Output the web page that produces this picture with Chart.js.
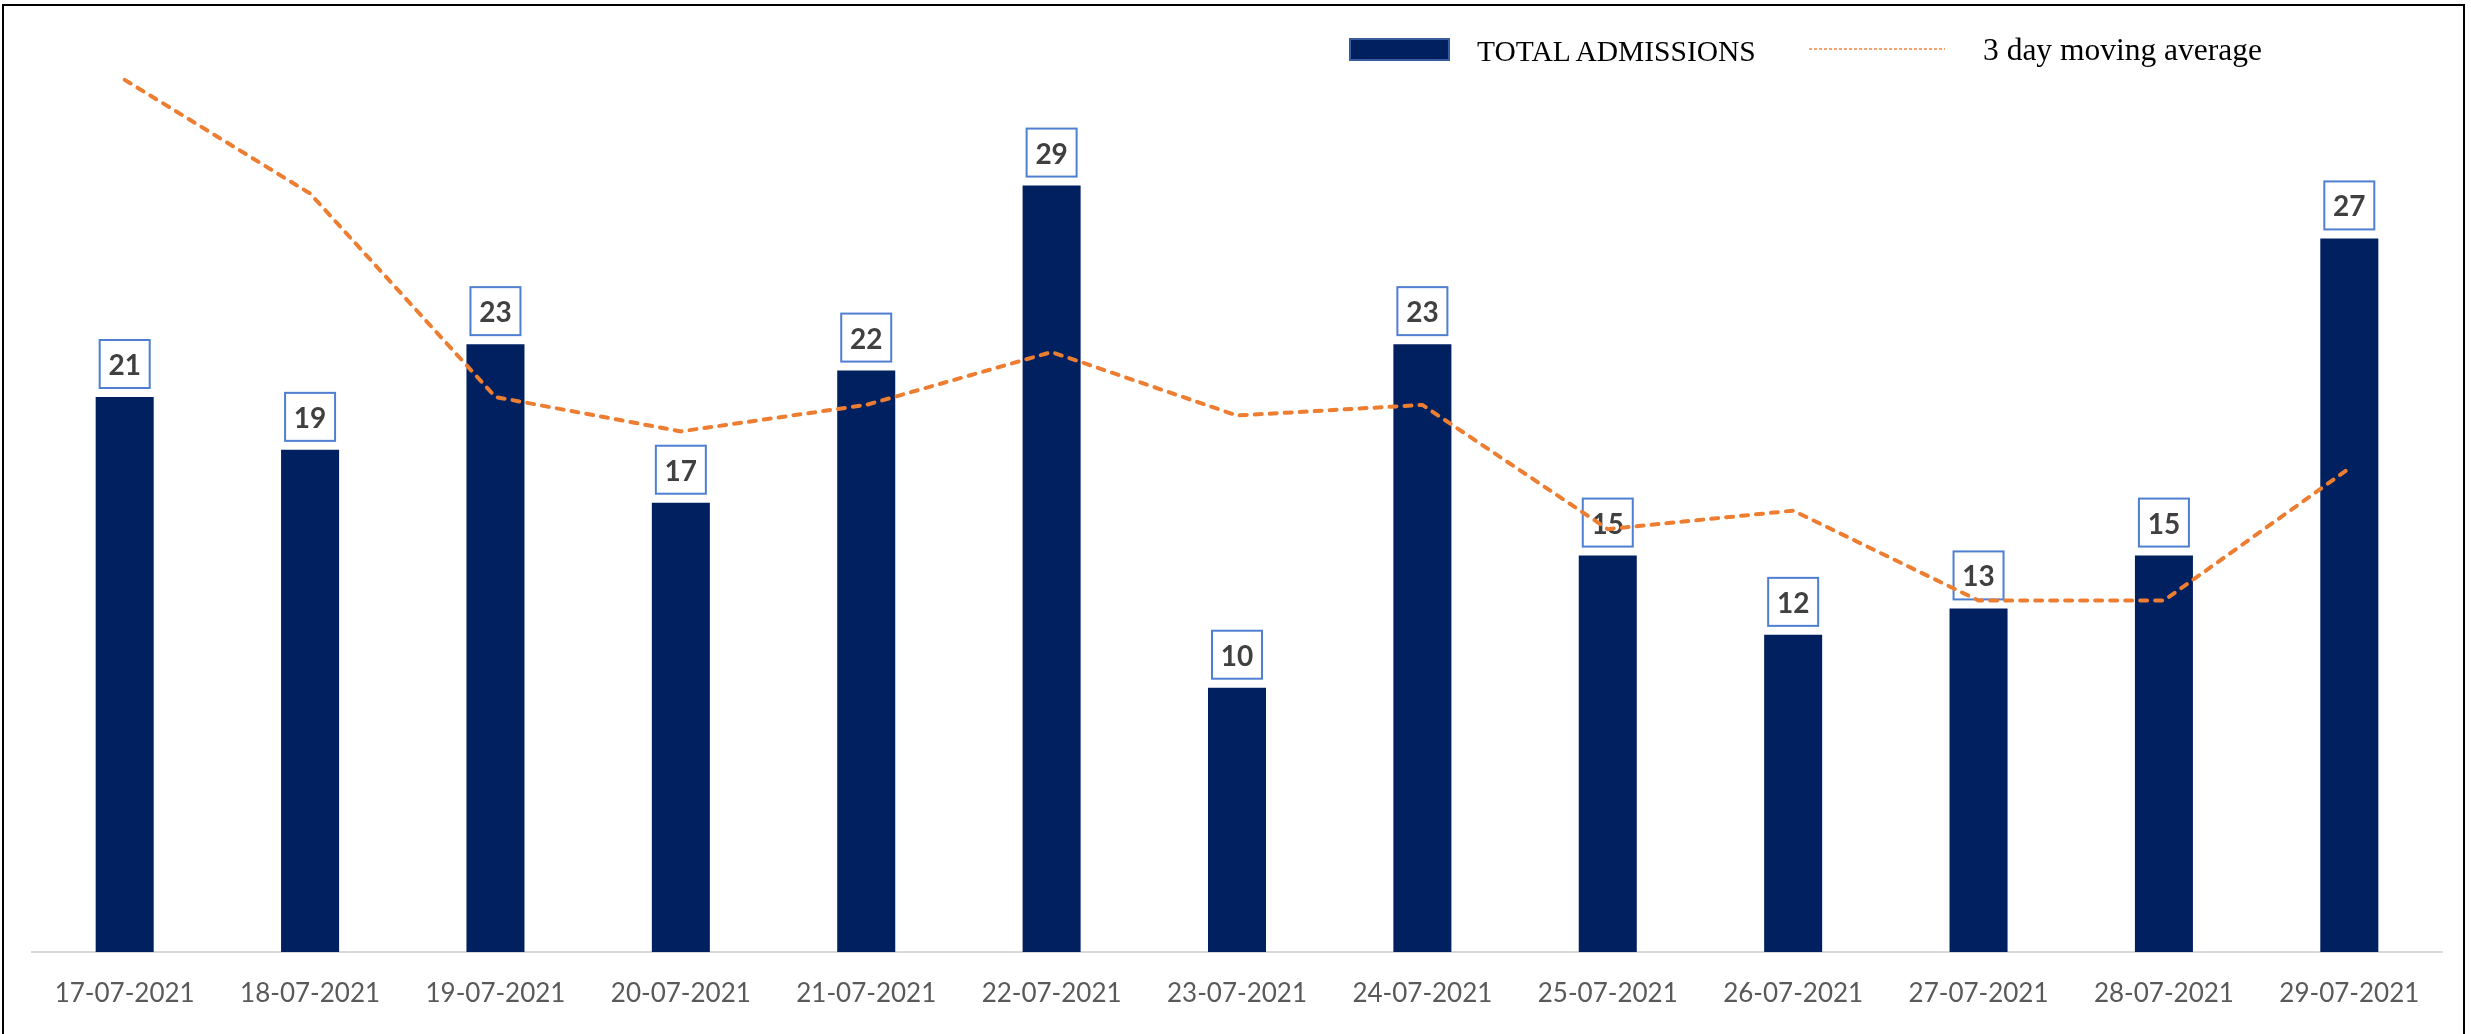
<!DOCTYPE html>
<html>
<head>
<meta charset="utf-8">
<title>Total admissions</title>
<script src="https://cdn.jsdelivr.net/npm/chart.js@4.4.0/dist/chart.umd.min.js"></script>
<style>
  html, body { margin: 0; padding: 0; background: #fff; overflow: hidden; }
  #wrap { position: relative; width: 2471px; height: 1034px; }
  #frame { position: absolute; left: 2px; top: 4px; width: 2463px; height: 1040px; border: 2px solid #000; box-sizing: border-box; pointer-events: none; }
  .leg { position: absolute; font-family: "Liberation Serif", "Times New Roman", serif; line-height: 30px; color: #000; white-space: nowrap; }
  #sw1 { position: absolute; left: 1349px; top: 38px; width: 101px; height: 23px; background: #002060; border: 2px solid #3a5b9c; box-sizing: border-box; }
  #sw2 { position: absolute; left: 1809px; top: 47px; }
</style>
</head>
<body>
<div id="wrap">
  <canvas id="mycanvas" width="2471" height="1034"></canvas>
  <div id="sw1"></div>
  <div class="leg" style="left:1477px; top:36px; font-size:29.5px;">TOTAL ADMISSIONS</div>
  <svg id="sw2" width="136" height="4"><line x1="0" y1="2" x2="136" y2="2" stroke="#f4a46e" stroke-width="2" stroke-dasharray="3 2"/></svg>
  <div class="leg" style="left:1983px; top:35px; font-size:31.5px;">3 day moving average</div>
  <div id="frame"></div>
</div>
<script>
var dates = ["17-07-2021", "18-07-2021", "19-07-2021", "20-07-2021", "21-07-2021", "22-07-2021", "23-07-2021",
             "24-07-2021", "25-07-2021", "26-07-2021", "27-07-2021", "28-07-2021", "29-07-2021"];
var admissions = [21, 19, 23, 17, 22, 29, 10, 23, 15, 12, 13, 15, 27];
var movingAvg = [33.0, 28.7, 21.0, 19.7, 20.7, 22.7, 20.3, 20.7, 16.0, 16.7, 13.3, 13.3, 18.3];

// boxed value labels above the bars, drawn before the line so the line sits on top
var labelBoxes = {
	id: 'labelBoxes',
	afterDatasetDraw: function(chart, args) {
		if (args.index !== 0) return;
		var ctx = chart.ctx;
		ctx.save();
		ctx.font = 'bold 28px Lato';
		ctx.textAlign = 'center';
		ctx.textBaseline = 'middle';
		args.meta.data.forEach(function(bar, i) {
			var w = 50, h = 48;
			var x = bar.x - w / 2, y = bar.y - 9 - h;
			ctx.fillStyle = '#ffffff';
			ctx.fillRect(x, y, w, h);
			ctx.strokeStyle = '#4f7fd1';
			ctx.lineWidth = 2;
			ctx.strokeRect(x, y, w, h);
			ctx.fillStyle = '#404040';
			ctx.fillText(String(admissions[i]), bar.x, y + h / 2 + 2);
		});
		ctx.restore();
	}
};

var chartdata = {
	labels: dates,
	datasets: [
		{
			type: 'bar',
			label: 'TOTAL ADMISSIONS',
			backgroundColor: '#002060',
			data: admissions,
			categoryPercentage: 1,
			barPercentage: 0.313,
			order: 1
		},
		{
			type: 'line',
			label: '3 day moving average',
			borderColor: '#ed7d31',
			borderWidth: 4,
			borderDash: [7, 8],
			borderCapStyle: 'round',
			pointRadius: 0,
			tension: 0,
			fill: false,
			data: movingAvg,
			order: 0
		}
	]
};

var ctx = document.getElementById('mycanvas');
var chart = new Chart(ctx, {
	type: 'bar',
	data: chartdata,
	plugins: [labelBoxes],
	options: {
		responsive: false,
		animation: false,
		devicePixelRatio: 1,
		layout: { padding: { left: 32, right: 29, top: 27, bottom: 0 } },
		plugins: {
			legend: { display: false },
			tooltip: { enabled: false }
		},
		scales: {
			x: {
				grid: { display: false, drawTicks: false },
				border: { display: true, color: '#d9d9d9', width: 2 },
				ticks: {
					font: { family: 'Lato', size: 26 },
					color: '#595959',
					padding: 26,
					maxRotation: 0,
					autoSkip: false
				},
				afterFit: function(scale) { scale.height = 82; }
			},
			y: {
				display: false,
				min: 0,
				max: 35
			}
		}
	}
});
</script>
</body>
</html>
